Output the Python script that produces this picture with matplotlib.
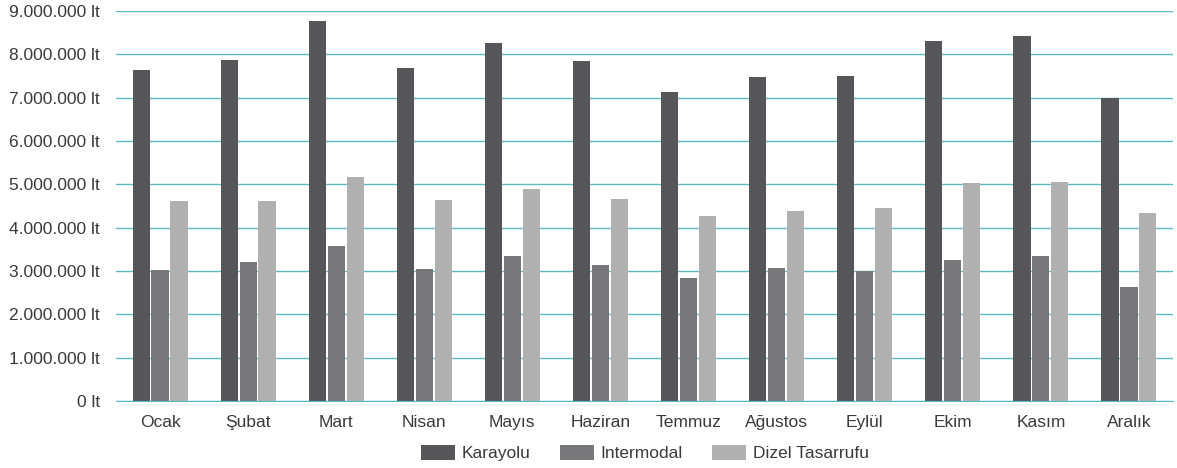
import matplotlib
matplotlib.use("Agg")
import matplotlib.pyplot as plt
import numpy as np
from matplotlib.ticker import FuncFormatter
from matplotlib.patches import Patch

months = ["Ocak", "Şubat", "Mart", "Nisan", "Mayıs", "Haziran", "Temmuz",
          "Ağustos", "Eylül", "Ekim", "Kasım", "Aralık"]
karayolu = [7.64, 7.87, 8.77, 7.69, 8.26, 7.85, 7.13, 7.48, 7.50, 8.31, 8.42, 6.99]
intermodal = [3.02, 3.21, 3.58, 3.05, 3.35, 3.14, 2.84, 3.07, 3.00, 3.25, 3.35, 2.63]
dizel = [4.62, 4.62, 5.17, 4.64, 4.89, 4.66, 4.27, 4.38, 4.45, 5.03, 5.05, 4.34]
series_names = ["Karayolu", "Intermodal", "Dizel Tasarrufu"]
yticks = [0, 1, 2, 3, 4, 5, 6, 7, 8, 9]

plt.rcParams['font.family'] = ['Liberation Sans', 'DejaVu Sans']
colors = ["#55555a", "#78787c", "#b0b0b0"]
grid_color = "#5bbcc4"
fs = 12.5

fig = plt.figure(figsize=(11.77, 4.68), dpi=100)
ax = fig.add_axes([116/1177, 1 - 401/468, (1173-116)/1177, (401-11)/468])

x = np.arange(len(months))
w = 0.195
step = 0.215
data = [karayolu, intermodal, dizel]
for i, (vals, c) in enumerate(zip(data, colors)):
    ax.bar(x + (i - 1) * step, np.array(vals) * 1e6, width=w, color=c, zorder=2)

ax.set_xlim(-0.5, len(months) - 0.5)
ax.set_ylim(0, 9e6)
ax.set_yticks([v * 1e6 for v in yticks])
ax.yaxis.set_major_formatter(FuncFormatter(
    lambda v, p: (f"{int(round(v)):,}".replace(",", ".") + " lt")))
ax.set_xticks(x)
ax.set_xticklabels(months)
ax.tick_params(axis='both', length=0, labelsize=fs, colors="#3a3a3a")
ax.tick_params(axis='y', pad=11.5)
ax.tick_params(axis='x', pad=10)
ax.grid(axis='y', color=grid_color, linewidth=1, zorder=0)
ax.set_axisbelow(True)
for s in ["top", "right", "left"]:
    ax.spines[s].set_visible(False)
ax.spines["bottom"].set_color(grid_color)
ax.spines["bottom"].set_zorder(3)

handles = [Patch(facecolor=c, edgecolor='none', label=n) for c, n in zip(colors, series_names)]
fig.legend(handles=handles, loc='center', bbox_to_anchor=(645/1177, 1 - 453/468),
           ncol=3, frameon=False, fontsize=fs, handlelength=1.95, handleheight=1.0,
           columnspacing=1.67, handletextpad=0.4, labelcolor="#3a3a3a",
           borderpad=0, borderaxespad=0)

fig.savefig("out.png", dpi=100)
